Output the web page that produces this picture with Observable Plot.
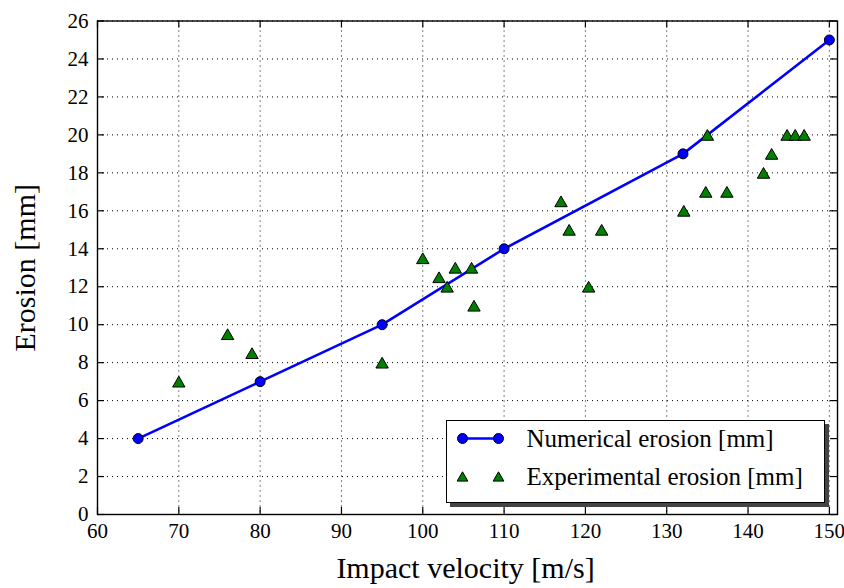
<!DOCTYPE html>
<html>
<head>
<meta charset="utf-8">
<script src="https://cdn.jsdelivr.net/npm/d3@7"></script>
<script src="https://cdn.jsdelivr.net/npm/@observablehq/plot@0.6"></script>
<style>
  html, body { margin: 0; padding: 0; background: #fff; }
  #wrap { position: relative; width: 844px; height: 588px; }
  #legend { position: absolute; left: 446px; top: 420px; width: 379px; height: 83px;
            box-sizing: border-box; border: 1.5px solid #000; background: #fff;
            box-shadow: 4px 4px 0 #444; }
  #wrap svg, #wrap svg text, #wrap svg g { font-family: "Liberation Serif", serif !important; }
</style>
</head>
<body>
<div id="wrap"><div id="legend"></div></div>
<script>
// Numerical erosion (line with circles)
const numVelocity = [65, 80, 95, 110, 132, 150];
const numErosion  = [4, 7, 10, 14, 19, 25];

// Experimental erosion (triangles)
const expVelocity = [70, 76, 79, 95, 100, 102, 103, 104, 106, 106.3, 117, 118, 120.4, 122, 132.1, 134.8, 135, 137.4, 141.9, 142.9, 144.8, 145.8, 146.9];
const expErosion  = [7, 9.5, 8.5, 8, 13.5, 12.5, 12, 13, 13, 11, 16.5, 15, 12, 15, 16, 17, 20, 17, 18, 19, 20, 20, 20];

const xTicks = [60, 70, 80, 90, 100, 110, 120, 130, 140, 150];
const yTicks = [0, 2, 4, 6, 8, 10, 12, 14, 16, 18, 20, 22, 24, 26];

const xLabel = "Impact velocity [m/s]";
const yLabel = "Erosion [mm]";
const legendLabels = ["Numerical erosion [mm]", "Experimental erosion [mm]"];

const numData = numVelocity.map((v, i) => ({v, e: numErosion[i]}));
const expData = expVelocity.map((v, i) => ({v, e: expErosion[i]}));

const W = 844, H = 588;
const mL = 97, mR = 7, mT = 20.5, mB = 74;
const innerW = W - mL - mR, innerH = H - mT - mB;
const tickLen = 7;
const FONT = "Liberation Serif";
const BLUE = "#0000ff", GREEN = "#008000";
const triR = 4.6;

const chart = Plot.plot({
  width: W, height: H,
  marginLeft: mL, marginRight: mR, marginTop: mT, marginBottom: mB,
  style: {background: "#fff", color: "#000", fontFamily: FONT},
  x: {domain: [60, 151], ticks: xTicks},
  y: {domain: [0, 26], ticks: yTicks},
  marks: [
    Plot.gridX(xTicks, {stroke: "#000", strokeOpacity: 1, strokeWidth: 1, strokeDasharray: "1,4"}),
    Plot.gridY(yTicks, {stroke: "#000", strokeOpacity: 1, strokeWidth: 1, strokeDasharray: "1,4"}),
    // inward ticks on all four sides
    Plot.tickX(xTicks, {x: d => d, insetTop: innerH - tickLen, stroke: "#000", strokeWidth: 1.2}),
    Plot.tickX(xTicks, {x: d => d, insetBottom: innerH - tickLen, stroke: "#000", strokeWidth: 1.2}),
    Plot.tickY(yTicks, {y: d => d, insetRight: innerW - tickLen, stroke: "#000", strokeWidth: 1.2}),
    Plot.tickY(yTicks, {y: d => d, insetLeft: innerW - tickLen, stroke: "#000", strokeWidth: 1.2}),
    Plot.axisX(xTicks, {tickSize: 0, tickPadding: 9, fontSize: 21, fontFamily: FONT, label: null, fill: "#000"}),
    Plot.axisY(yTicks, {tickSize: 0, tickPadding: 9, fontSize: 21, fontFamily: FONT, label: null, fill: "#000"}),
    Plot.frame({stroke: "#000", strokeWidth: 1.4}),
    Plot.line(numData, {x: "v", y: "e", stroke: BLUE, strokeWidth: 2.6}),
    Plot.dot(numData, {x: "v", y: "e", r: 5, fill: BLUE, stroke: "#000", strokeWidth: 1}),
    Plot.dot(expData, {x: "v", y: "e", symbol: "triangle", r: triR, dy: 1.8, fill: GREEN, stroke: "#000", strokeWidth: 1}),
    Plot.text([xLabel], {frameAnchor: "bottom", dx: -2, dy: 54, fontSize: 30, fontFamily: FONT, fill: "#000", textAnchor: "middle", lineAnchor: "middle"}),
    Plot.text([yLabel], {frameAnchor: "left", dx: -72, rotate: -90, fontSize: 30, fontFamily: FONT, fill: "#000", textAnchor: "middle", lineAnchor: "middle"})
  ]
});
document.getElementById("wrap").prepend(chart);

// Legend
const lg = d3.select("#legend").append("svg")
  .attr("width", 376).attr("height", 80)
  .style("display", "block");
const x1 = 15.5, x2 = 51.5, tx = 79.5, r1 = 17.5, r2 = 55.5;
lg.append("line").attr("x1", x1).attr("x2", x2).attr("y1", r1).attr("y2", r1)
  .attr("stroke", BLUE).attr("stroke-width", 2.6);
[x1, x2].forEach(x => lg.append("circle").attr("cx", x).attr("cy", r1).attr("r", 5)
  .attr("fill", BLUE).attr("stroke", "#000").attr("stroke-width", 1));
const tri = d3.symbol(d3.symbolTriangle, Math.PI * triR * triR * 0.75);
[x1, x2].forEach(x => lg.append("path").attr("d", tri())
  .attr("transform", `translate(${x},${r2 + 1.5})`)
  .attr("fill", GREEN).attr("stroke", "#000").attr("stroke-width", 1));
lg.append("text").attr("x", tx).attr("y", r1).attr("dy", "0.33em")
  .attr("font-size", 25).attr("font-family", FONT).text(legendLabels[0]);
lg.append("text").attr("x", tx).attr("y", r2).attr("dy", "0.33em")
  .attr("font-size", 25).attr("font-family", FONT).text(legendLabels[1]);
</script>
</body>
</html>
